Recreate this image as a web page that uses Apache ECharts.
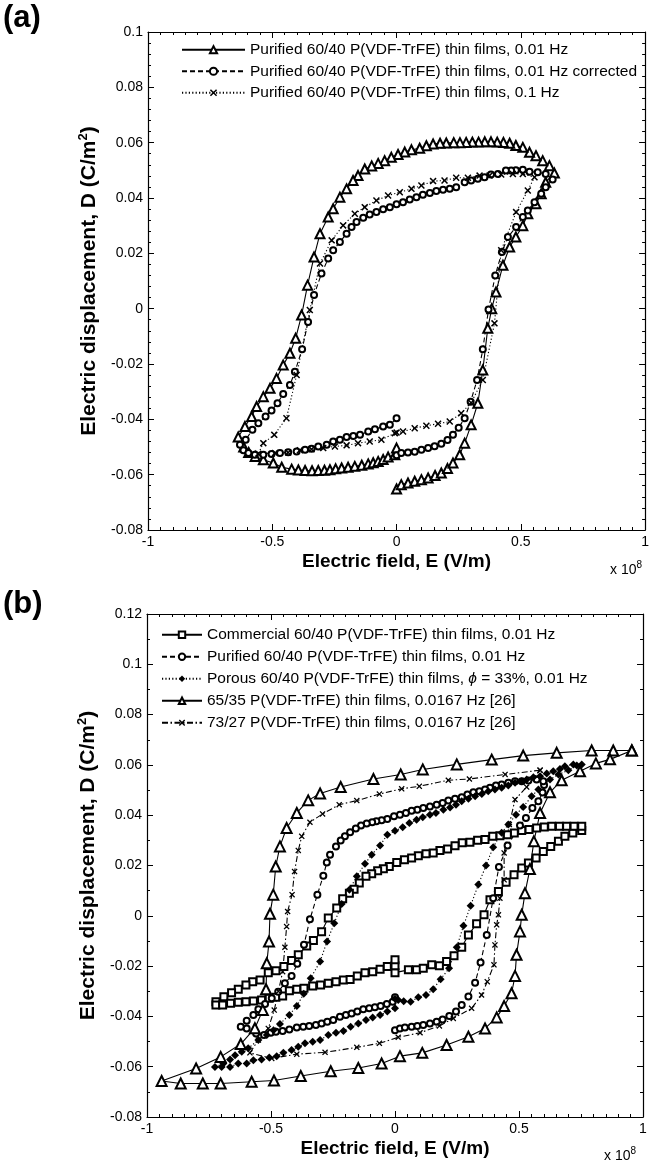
<!DOCTYPE html>
<html>
<head>
<meta charset="utf-8">
<script src="https://cdn.jsdelivr.net/npm/echarts@6/dist/echarts.min.js"></script>
<style>
html, body { margin: 0; padding: 0; background: #fff; }
#chart { width: 652px; height: 1170px; }
</style>
</head>
<body>
<div id="chart"></div>
<script>
// ---- data: [E (x1e8 V/m), D (C/m^2)] ----
var namesA = [
    'Purified 60/40 P(VDF-TrFE) thin films, 0.01 Hz',
    'Purified 60/40 P(VDF-TrFE) thin films, 0.01 Hz corrected',
    'Purified 60/40 P(VDF-TrFE) thin films, 0.1 Hz'
];
var namesB = [
    'Commercial 60/40 P(VDF-TrFE) thin films, 0.01 Hz',
    'Purified 60/40 P(VDF-TrFE) thin films, 0.01 Hz\u200b',
    'Porous 60/40 P(VDF-TrFE) thin films, {g|\u03d5} = 33%, 0.01 Hz',
    '65/35 P(VDF-TrFE) thin films, 0.0167 Hz [26]',
    '73/27 P(VDF-TrFE) thin films, 0.0167 Hz [26]'
];
var xTicks = [-1, -0.5, 0, 0.5, 1];

var aTri = [
    [0, -0.0652], [0.019, -0.0636], [0.046, -0.063], [0.073, -0.0624], [0.10, -0.0618], [0.127, -0.0612],
    [0.155, -0.0603], [0.18, -0.0594], [0.205, -0.0578], [0.227, -0.0558], [0.254, -0.0528], [0.274, -0.0486],
    [0.30, -0.042], [0.327, -0.0342], [0.347, -0.0222], [0.367, -0.0071], [0.383, 0.0], [0.40, 0.006],
    [0.428, 0.0157], [0.455, 0.0223], [0.48, 0.0259], [0.508, 0.030], [0.528, 0.0343], [0.561, 0.0379],
    [0.582, 0.0415], [0.60, 0.0457], [0.635, 0.049],
    [0.615, 0.0517], [0.588, 0.0535], [0.561, 0.0553], [0.535, 0.0565], [0.508, 0.0583], [0.48, 0.059],
    [0.455, 0.0598], [0.43, 0.0601], [0.405, 0.0602], [0.38, 0.0603], [0.355, 0.0603], [0.33, 0.0602],
    [0.305, 0.0602], [0.28, 0.0601], [0.255, 0.06], [0.23, 0.06], [0.2, 0.0599], [0.175, 0.0598],
    [0.147, 0.0595], [0.12, 0.0589], [0.093, 0.058], [0.06, 0.0574], [0.033, 0.0566], [0.006, 0.0557],
    [-0.021, 0.0547], [-0.048, 0.0535], [-0.074, 0.0525], [-0.1, 0.0516], [-0.128, 0.0505], [-0.155, 0.0481],
    [-0.175, 0.0463], [-0.201, 0.0433], [-0.228, 0.0403], [-0.255, 0.0361], [-0.275, 0.0331], [-0.308, 0.0271],
    [-0.332, 0.0187], [-0.358, 0.0085], [-0.382, -0.0023], [-0.406, -0.0107], [-0.429, -0.0161],
    [-0.456, -0.0204], [-0.483, -0.0252], [-0.509, -0.0288], [-0.536, -0.0318], [-0.563, -0.0354],
    [-0.583, -0.039], [-0.61, -0.0426], [-0.637, -0.0464],
    [-0.615, -0.05], [-0.595, -0.052], [-0.569, -0.0534], [-0.536, -0.0546], [-0.496, -0.0558],
    [-0.462, -0.0573], [-0.422, -0.058], [-0.395, -0.0583], [-0.368, -0.0585], [-0.34, -0.0586],
    [-0.315, -0.0585], [-0.29, -0.0584], [-0.268, -0.0582], [-0.245, -0.0579], [-0.221, -0.0576],
    [-0.195, -0.0573], [-0.168, -0.057], [-0.14, -0.0566], [-0.114, -0.0561], [-0.094, -0.0557],
    [-0.074, -0.0552], [-0.054, -0.0545], [-0.034, -0.0536], [-0.007, -0.0528], [0, -0.0504]
];
var aCirc = [
    [0, -0.053], [0.019, -0.0522], [0.046, -0.052], [0.073, -0.0517], [0.1, -0.051], [0.127, -0.0504],
    [0.153, -0.0497], [0.18, -0.0488], [0.205, -0.0475], [0.227, -0.0456], [0.25, -0.043], [0.274, -0.0396],
    [0.298, -0.0336], [0.324, -0.0258], [0.347, -0.0147], [0.37, -0.0003], [0.397, 0.012], [0.424, 0.0205],
    [0.448, 0.0259], [0.481, 0.0295], [0.508, 0.0331], [0.528, 0.0355], [0.555, 0.0385], [0.582, 0.0415],
    [0.60, 0.0439], [0.628, 0.0467],
    [0.6, 0.0487], [0.568, 0.0493], [0.535, 0.0495], [0.508, 0.0502], [0.48, 0.05], [0.461, 0.0499],
    [0.44, 0.0499], [0.408, 0.0487], [0.38, 0.0485], [0.354, 0.0475], [0.327, 0.047], [0.30, 0.0463],
    [0.274, 0.0457], [0.24, 0.0439], [0.214, 0.0433], [0.187, 0.043], [0.16, 0.0425], [0.134, 0.0418],
    [0.106, 0.0412], [0.08, 0.0403], [0.053, 0.0395], [0.026, 0.0385], [0, 0.0377], [-0.027, 0.0367],
    [-0.054, 0.0359], [-0.081, 0.0349], [-0.108, 0.034], [-0.134, 0.0329], [-0.161, 0.0313],
    [-0.181, 0.0295], [-0.201, 0.0271], [-0.228, 0.0241], [-0.255, 0.0211], [-0.275, 0.0181],
    [-0.302, 0.0127], [-0.332, 0.0049], [-0.356, -0.0048], [-0.38, -0.0147], [-0.409, -0.0228],
    [-0.429, -0.0276], [-0.456, -0.0308], [-0.479, -0.0342], [-0.503, -0.0368], [-0.527, -0.039],
    [-0.556, -0.0414], [-0.58, -0.0438], [-0.607, -0.0474], [-0.63, -0.0492],
    [-0.616, -0.0512], [-0.596, -0.0522], [-0.57, -0.0528], [-0.536, -0.0528], [-0.503, -0.0525],
    [-0.469, -0.0522], [-0.436, -0.0519], [-0.402, -0.0516], [-0.368, -0.051], [-0.342, -0.0506],
    [-0.315, -0.0498], [-0.281, -0.0492], [-0.255, -0.048], [-0.228, -0.0474], [-0.201, -0.0464],
    [-0.174, -0.046], [-0.147, -0.0456], [-0.114, -0.0444], [-0.087, -0.0436], [-0.054, -0.0426],
    [-0.027, -0.042], [0, -0.0396]
];
var aCross = [
    [0, -0.0448], [0.026, -0.0444], [0.073, -0.0432], [0.12, -0.0423], [0.167, -0.0416], [0.214, -0.0408],
    [0.26, -0.0378], [0.30, -0.034], [0.347, -0.0258], [0.394, -0.0053], [0.421, 0.0211], [0.481, 0.0349],
    [0.528, 0.0427], [0.555, 0.0475],
    [0.508, 0.0487], [0.468, 0.0487], [0.421, 0.0485], [0.374, 0.0481], [0.334, 0.0481], [0.287, 0.0473],
    [0.24, 0.0473], [0.193, 0.0463], [0.147, 0.0461], [0.10, 0.0445], [0.06, 0.0433], [0.013, 0.0421],
    [-0.034, 0.0409], [-0.081, 0.0391], [-0.128, 0.0367], [-0.168, 0.0343], [-0.215, 0.0301],
    [-0.261, 0.0247], [-0.308, 0.0163], [-0.349, -0.0005], [-0.402, -0.024], [-0.443, -0.0396],
    [-0.492, -0.0456], [-0.536, -0.0486],
    [-0.556, -0.0524], [-0.489, -0.0522], [-0.436, -0.052], [-0.389, -0.0512], [-0.342, -0.0508],
    [-0.295, -0.0504], [-0.248, -0.0498], [-0.201, -0.0494], [-0.155, -0.0486], [-0.108, -0.048],
    [-0.061, -0.0474], [-0.007, -0.045]
];

var bSq = [
    [0, -0.0226], [0.054, -0.0215], [0.087, -0.0215], [0.114, -0.0209], [0.148, -0.0195], [0.179, -0.0199],
    [0.208, -0.0182], [0.238, -0.0159], [0.269, -0.0125], [0.296, -0.0076], [0.329, -0.0032], [0.359, 0.0004],
    [0.383, 0.0064], [0.417, 0.0097], [0.448, 0.0133], [0.48, 0.0163], [0.511, 0.019], [0.538, 0.021],
    [0.569, 0.023], [0.598, 0.0256], [0.628, 0.0276], [0.659, 0.0296], [0.685, 0.0316], [0.717, 0.0329],
    [0.753, 0.0339],
    [0.753, 0.0356], [0.722, 0.0356], [0.692, 0.0356], [0.663, 0.0356], [0.632, 0.0356], [0.602, 0.0353],
    [0.571, 0.0349], [0.54, 0.0343], [0.511, 0.0339], [0.481, 0.0329], [0.453, 0.0322], [0.423, 0.0318],
    [0.394, 0.0316], [0.363, 0.0303], [0.333, 0.03], [0.302, 0.0292], [0.271, 0.029], [0.242, 0.0279],
    [0.212, 0.0266], [0.181, 0.026], [0.154, 0.025], [0.125, 0.0247], [0.094, 0.0239], [0.067, 0.023],
    [0.038, 0.0223], [0.007, 0.0212], [-0.023, 0.0196], [-0.047, 0.0187], [-0.07, 0.0179], [-0.094, 0.0167],
    [-0.117, 0.0157], [-0.144, 0.013], [-0.165, 0.0106], [-0.184, 0.009], [-0.211, 0.0068], [-0.235, 0.0031],
    [-0.269, -0.0009], [-0.296, -0.0063], [-0.329, -0.0098], [-0.356, -0.012], [-0.39, -0.0155],
    [-0.417, -0.0178], [-0.448, -0.0202], [-0.48, -0.0218], [-0.511, -0.0226], [-0.544, -0.0255],
    [-0.574, -0.0262], [-0.601, -0.0275], [-0.632, -0.0292], [-0.659, -0.0306], [-0.69, -0.0322],
    [-0.722, -0.0342], [-0.722, -0.0355],
    [-0.695, -0.0355], [-0.663, -0.0348], [-0.632, -0.0344], [-0.601, -0.0342], [-0.571, -0.0339],
    [-0.538, -0.0335], [-0.507, -0.0328], [-0.48, -0.0324], [-0.453, -0.0319], [-0.426, -0.0298],
    [-0.396, -0.0292], [-0.367, -0.0288], [-0.332, -0.0279], [-0.3, -0.0275], [-0.269, -0.0268],
    [-0.238, -0.0262], [-0.208, -0.0255], [-0.181, -0.0253], [-0.152, -0.0239], [-0.121, -0.0226],
    [-0.09, -0.0222], [-0.06, -0.0213], [-0.031, -0.0202], [0, -0.0199], [0, -0.0175]
];
var bCirc = [
    [0, -0.0455], [0.02, -0.0448], [0.04, -0.0444], [0.067, -0.0441], [0.09, -0.0438], [0.114, -0.0434],
    [0.141, -0.0428], [0.168, -0.0421], [0.192, -0.0412], [0.219, -0.0398], [0.246, -0.0381], [0.269, -0.0355],
    [0.296, -0.0321], [0.323, -0.0266], [0.345, -0.0186], [0.37, -0.0076], [0.396, 0.007], [0.419, 0.0194],
    [0.454, 0.028], [0.504, 0.0359], [0.528, 0.0389], [0.554, 0.0429], [0.578, 0.0455], [0.595, 0.049],
    [0.601, 0.052],
    [0.598, 0.0535], [0.571, 0.0542], [0.538, 0.0538], [0.511, 0.0535], [0.484, 0.0535], [0.457, 0.0529],
    [0.43, 0.0522], [0.407, 0.0518], [0.383, 0.0509], [0.363, 0.0502], [0.34, 0.0495], [0.316, 0.0491],
    [0.292, 0.0482], [0.269, 0.0471], [0.242, 0.0465], [0.215, 0.0458], [0.192, 0.0449], [0.168, 0.0442],
    [0.141, 0.0435], [0.114, 0.0429], [0.09, 0.0422], [0.067, 0.0418], [0.044, 0.0409], [0.02, 0.0402],
    [-0.004, 0.0396], [-0.031, 0.0385], [-0.054, 0.038], [-0.075, 0.0376], [-0.092, 0.0372],
    [-0.114, 0.0367], [-0.137, 0.0359], [-0.158, 0.0347], [-0.181, 0.0332], [-0.202, 0.0316],
    [-0.219, 0.0299], [-0.238, 0.0276], [-0.262, 0.0243], [-0.275, 0.0212], [-0.289, 0.0159],
    [-0.313, 0.0084], [-0.343, -0.0014], [-0.367, -0.0115], [-0.394, -0.0191], [-0.417, -0.0239],
    [-0.444, -0.0268], [-0.471, -0.0302], [-0.497, -0.0328], [-0.524, -0.0351], [-0.551, -0.0372],
    [-0.571, -0.0394], [-0.598, -0.0417], [-0.622, -0.0441],
    [-0.598, -0.0448], [-0.56, -0.0468], [-0.528, -0.0474], [-0.501, -0.0465], [-0.48, -0.0461],
    [-0.453, -0.0458], [-0.426, -0.0452], [-0.396, -0.0444], [-0.37, -0.0441], [-0.346, -0.0438],
    [-0.319, -0.0434], [-0.296, -0.0428], [-0.273, -0.0421], [-0.249, -0.0414], [-0.222, -0.0401],
    [-0.198, -0.0394], [-0.175, -0.0388], [-0.152, -0.0381], [-0.128, -0.0372], [-0.104, -0.0368],
    [-0.081, -0.0364], [-0.058, -0.0359], [-0.033, -0.0351], [-0.009, -0.0342], [0, -0.0324]
];
var bDia = [
    [0, -0.033], [0.013, -0.0335], [0.035, -0.034], [0.063, -0.0342], [0.094, -0.0324], [0.125, -0.0315],
    [0.154, -0.0292], [0.184, -0.0252], [0.218, -0.0209], [0.249, -0.0125], [0.276, -0.004], [0.305, 0.004],
    [0.336, 0.0124], [0.367, 0.02], [0.396, 0.0273], [0.43, 0.033], [0.457, 0.0363], [0.488, 0.0402],
    [0.517, 0.0433], [0.551, 0.0475], [0.578, 0.0502], [0.625, 0.0542], [0.659, 0.0562], [0.699, 0.0579],
    [0.733, 0.0598], [0.753, 0.0602],
    [0.719, 0.0602], [0.685, 0.0595], [0.665, 0.0584], [0.638, 0.0575], [0.612, 0.0566], [0.585, 0.0555],
    [0.558, 0.0551], [0.531, 0.0542], [0.511, 0.0535], [0.484, 0.0529], [0.457, 0.0518], [0.43, 0.0509],
    [0.403, 0.0502], [0.376, 0.0495], [0.35, 0.0484], [0.323, 0.0475], [0.296, 0.0465], [0.269, 0.0455],
    [0.246, 0.0442], [0.222, 0.0431], [0.195, 0.0422], [0.165, 0.0409], [0.141, 0.0402], [0.112, 0.0392],
    [0.087, 0.0382], [0.058, 0.0369], [0.031, 0.0352], [0, 0.0338], [-0.031, 0.0322], [-0.06, 0.028],
    [-0.094, 0.0243], [-0.121, 0.0207], [-0.154, 0.0157], [-0.184, 0.0104], [-0.215, 0.0047],
    [-0.245, -0.003], [-0.274, -0.0102], [-0.302, -0.0182], [-0.34, -0.0248], [-0.368, -0.031],
    [-0.396, -0.0359], [-0.426, -0.0394], [-0.464, -0.043], [-0.49, -0.0455], [-0.517, -0.0474],
    [-0.551, -0.0494], [-0.592, -0.0527], [-0.618, -0.0541], [-0.645, -0.0554], [-0.665, -0.0571],
    [-0.692, -0.0587], [-0.726, -0.0601],
    [-0.699, -0.0601], [-0.665, -0.0601], [-0.632, -0.0587], [-0.598, -0.0587], [-0.571, -0.0574],
    [-0.538, -0.0571], [-0.507, -0.0563], [-0.477, -0.0558], [-0.45, -0.0545], [-0.417, -0.0534],
    [-0.39, -0.0521], [-0.363, -0.0507], [-0.332, -0.0501], [-0.302, -0.0494], [-0.269, -0.0474],
    [-0.238, -0.0465], [-0.208, -0.0458], [-0.179, -0.0441], [-0.148, -0.0428], [-0.117, -0.0414],
    [-0.09, -0.0404], [-0.06, -0.0394], [-0.031, -0.0381], [0, -0.0368]
];
var bTri = [
    [0.955, 0.0657], [0.88, 0.0657], [0.793, 0.0657], [0.652, 0.0648], [0.517, 0.0637], [0.39, 0.0621],
    [0.249, 0.0602], [0.112, 0.0582], [0.023, 0.0562], [-0.087, 0.0544], [-0.219, 0.0512], [-0.302, 0.0486],
    [-0.35, 0.0459], [-0.396, 0.0409], [-0.437, 0.0349], [-0.464, 0.0276], [-0.481, 0.0196], [-0.491, 0.0084],
    [-0.504, 0.0008], [-0.508, -0.0102], [-0.517, -0.0189], [-0.52, -0.0292], [-0.533, -0.0375],
    [-0.565, -0.0447], [-0.622, -0.051], [-0.703, -0.0561], [-0.802, -0.0607], [-0.941, -0.0657],
    [-0.864, -0.0667], [-0.775, -0.0667], [-0.703, -0.0667], [-0.578, -0.066], [-0.488, -0.0655],
    [-0.38, -0.0637], [-0.259, -0.0618], [-0.148, -0.0605], [-0.054, -0.0587], [0.02, -0.0558],
    [0.11, -0.0545], [0.208, -0.0514], [0.296, -0.0481], [0.363, -0.0448], [0.41, -0.0404], [0.44, -0.0359],
    [0.47, -0.0308], [0.484, -0.0239], [0.49, -0.0155], [0.504, -0.0062], [0.511, 0.0004], [0.524, 0.009],
    [0.544, 0.0186], [0.56, 0.0296], [0.585, 0.0409], [0.625, 0.0491], [0.672, 0.0539], [0.746, 0.0575],
    [0.81, 0.0606], [0.867, 0.0622], [0.955, 0.0657]
];
var bCross = [
    [0.585, 0.0579], [0.444, 0.0562], [0.3, 0.0544], [0.215, 0.0539], [0.098, 0.0515], [0.027, 0.0505],
    [-0.063, 0.0484], [-0.154, 0.0458], [-0.225, 0.0442], [-0.292, 0.0405], [-0.343, 0.0372], [-0.376, 0.0316],
    [-0.39, 0.026], [-0.405, 0.0176], [-0.415, 0.0084], [-0.433, 0.0017], [-0.437, -0.0043], [-0.444, -0.0125],
    [-0.453, -0.0222], [-0.47, -0.03], [-0.487, -0.0375], [-0.511, -0.0448], [-0.551, -0.0494],
    [-0.585, -0.0545],
    [-0.497, -0.0567], [-0.396, -0.055], [-0.282, -0.0543], [-0.154, -0.0523], [-0.063, -0.0507],
    [0.013, -0.0483], [0.101, -0.0465], [0.179, -0.0438], [0.235, -0.0408], [0.309, -0.0368], [0.349, -0.0315],
    [0.372, -0.0262], [0.399, -0.0195], [0.403, -0.0116], [0.41, -0.0036], [0.417, 0.0004], [0.423, 0.007],
    [0.44, 0.0143], [0.44, 0.025], [0.461, 0.0363], [0.484, 0.0462], [0.531, 0.0512], [0.585, 0.0579]
];

var FONT = '"Liberation Sans", Arial, sans-serif';
var CROSS = 'path://M0,1.5L1.5,0L5,3.5L8.5,0L10,1.5L6.5,5L10,8.5L8.5,10L5,6.5L1.5,10L0,8.5L3.5,5Z';
var DOT = [1.2, 2.2];
var DASH = [5, 3];
var DASHDOT = [6, 2.5, 1.5, 2.5];

function xAxes(gi) {
    var base = {
        gridIndex: gi, type: 'value', min: -1, max: 1, interval: 0.5,
        axisLine: { onZero: false, lineStyle: { color: '#000', width: 1.2 } },
        axisTick: { inside: true, length: 6, lineStyle: { color: '#000', width: 1 } },
        minorTick: { show: true, splitNumber: 10, length: 3, lineStyle: { color: '#000', width: 1 } },
        splitLine: { show: false },
        minorSplitLine: { show: false }
    };
    var bottom = Object.assign({}, base, {
        position: 'bottom',
        axisLabel: {
            color: '#000', fontSize: 14, fontFamily: FONT, margin: 5,
            formatter: function (v) { return xTicks.indexOf(v) >= 0 ? String(v) : ''; }
        },
        name: 'Electric field, E (V/m)', nameLocation: 'middle', nameGap: 22,
        nameTextStyle: { color: '#000', fontSize: 19, fontWeight: 'bold', fontFamily: FONT }
    });
    var top = Object.assign({}, base, { position: 'top', axisLabel: { show: false } });
    return [bottom, top];
}

function yAxes(gi, max, minorSplit) {
    var base = {
        gridIndex: gi, type: 'value', min: -0.08, max: max, interval: 0.02,
        axisLine: { onZero: false, lineStyle: { color: '#000', width: 1.2 } },
        axisTick: { inside: true, length: 6, lineStyle: { color: '#000', width: 1 } },
        minorTick: { show: true, splitNumber: minorSplit, length: 3, lineStyle: { color: '#000', width: 1 } },
        splitLine: { show: false },
        minorSplitLine: { show: false }
    };
    var left = Object.assign({}, base, {
        position: 'left',
        axisLabel: { color: '#000', fontSize: 14, fontFamily: FONT, margin: 5 },
        name: '{t|Electric displacement, D (C/m}{s|2}{t|)}', nameLocation: 'middle', nameGap: 42,
        nameTextStyle: {
            color: '#000',
            rich: {
                t: { fontSize: 21, fontWeight: 'bold', fontFamily: FONT, color: '#000' },
                s: { fontSize: 13, fontWeight: 'bold', fontFamily: FONT, color: '#000', padding: [0, 0, 12, 0] }
            }
        }
    });
    var right = Object.assign({}, base, { position: 'right', axisLabel: { show: false } });
    return [left, right];
}

function mkSeries(name, data, gi, symbol, size, dash, filled) {
    return {
        type: 'line', name: name, data: data,
        xAxisIndex: gi * 2, yAxisIndex: gi * 2,
        symbol: symbol, symbolSize: size, showAllSymbol: true,
        lineStyle: { color: '#000', width: 1.1, type: dash },
        itemStyle: filled ? { color: '#000', borderWidth: 0 } : { color: '#000', borderColor: '#000', borderWidth: 1.3 },
        emphasis: { disabled: true },
        animation: false
    };
}

var legendText = { color: '#000', fontSize: 15.5, fontFamily: FONT, lineHeight: 17.5 };

var option = {
    backgroundColor: '#fff',
    animation: false,
    grid: [
        { left: 148, top: 32, width: 500, height: 498 },
        { left: 147, top: 614, width: 496, height: 503 }
    ],
    xAxis: xAxes(0).concat(xAxes(1)),
    yAxis: yAxes(0, 0.1, 5).concat(yAxes(1, 0.12, 2)),
    legend: [
        {
            data: namesA, orient: 'vertical', left: 176, top: 36,
            itemWidth: 63, itemHeight: 9, itemGap: 4, selectedMode: false,
            textStyle: legendText
        },
        {
            data: namesB, orient: 'vertical', left: 156, top: 621,
            itemWidth: 40, itemHeight: 8, itemGap: 4.5, selectedMode: false,
            textStyle: Object.assign({}, legendText, {
                rich: { g: { fontSize: 15.5, fontStyle: 'italic', fontFamily: FONT, color: '#000' } }
            })
        }
    ],
    graphic: [
        { type: 'text', left: 3, top: 3, style: { text: '(a)', fontSize: 31, fontWeight: 'bold', fontFamily: FONT, fill: '#000' } },
        { type: 'text', left: 3, top: 589, style: { text: '(b)', fontSize: 31, fontWeight: 'bold', fontFamily: FONT, fill: '#000' } },
        {
            type: 'text', left: 610, top: 560,
            style: {
                text: '{a|x 10}{s|8}', fill: '#000',
                rich: { a: { fontSize: 14, fontFamily: FONT, fill: '#000', padding: [10, 0, 0, 0] }, s: { fontSize: 10, fontFamily: FONT, fill: '#000' } }
            }
        },
        {
            type: 'text', left: 604, top: 1146,
            style: {
                text: '{a|x 10}{s|8}', fill: '#000',
                rich: { a: { fontSize: 14, fontFamily: FONT, fill: '#000', padding: [10, 0, 0, 0] }, s: { fontSize: 10, fontFamily: FONT, fill: '#000' } }
            }
        }
    ],
    series: [
        mkSeries(namesA[0], aTri, 0, 'emptyTriangle', 9, 'solid', false),
        mkSeries(namesA[1], aCirc, 0, 'emptyCircle', 6, DASH, false),
        mkSeries(namesA[2], aCross, 0, CROSS, 7, DOT, true),
        mkSeries(namesB[0], bSq, 1, 'emptyRect', 7, 'solid', false),
        mkSeries(namesB[1], bCirc, 1, 'emptyCircle', 6, DASH, false),
        mkSeries(namesB[2], bDia, 1, 'diamond', 8, DOT, true),
        mkSeries(namesB[3], bTri, 1, 'emptyTriangle', 10, 'solid', false),
        mkSeries(namesB[4], bCross, 1, CROSS, 6, DASHDOT, true)
    ]
};

var myChart = echarts.init(document.getElementById('chart'), null, { renderer: 'canvas' });
myChart.setOption(option);
</script>
</body>
</html>
